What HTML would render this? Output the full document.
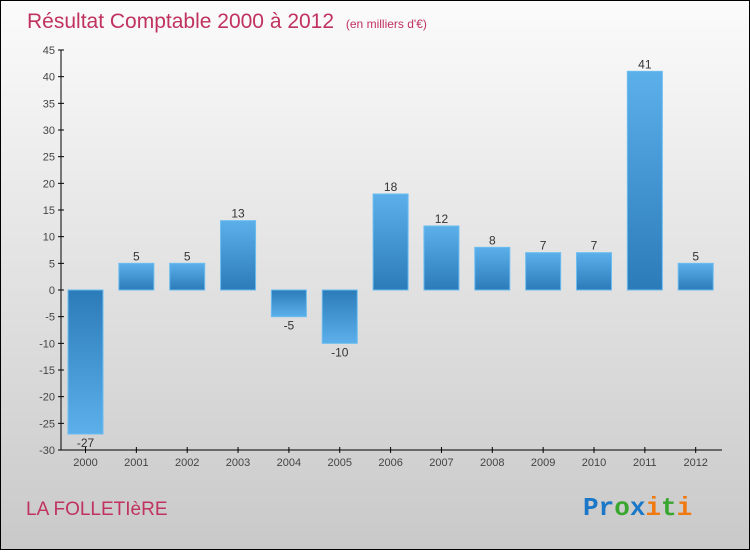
<!DOCTYPE html>
<html><head><meta charset="utf-8"><style>
html,body{margin:0;padding:0}
body{width:750px;height:550px;overflow:hidden;font-family:"Liberation Sans",sans-serif}
#wrap{position:absolute;left:0;top:0;width:748px;height:548px;border:1px solid #000;background:linear-gradient(#fbfbfb,#c9c9c9)}
</style></head><body>
<div id="wrap">
<svg id="chart" width="748" height="548">
<defs>
<linearGradient id="gp" x1="0" y1="0" x2="0" y2="1"><stop offset="0" stop-color="#5cb0ea"/><stop offset="1" stop-color="#2b7bb9"/></linearGradient>
<linearGradient id="gn" x1="0" y1="0" x2="0" y2="1"><stop offset="0" stop-color="#2b7bb9"/><stop offset="1" stop-color="#5cb0ea"/></linearGradient>
</defs>
<text x="26" y="27" font-size="21" fill="#c0325f">Résultat Comptable 2000 à 2012 <tspan font-size="12" dx="6">(en milliers d'€)</tspan></text>
<text x="25" y="514" font-size="19" fill="#c0325f">LA FOLLETIèRE</text>
<text x="582" y="514" font-size="26" font-family="Liberation Mono,monospace" font-weight="bold"><tspan fill="#1b78c8">Pr</tspan><tspan fill="#39a62f">o</tspan><tspan fill="#1b78c8">x</tspan><tspan fill="#f07a10">i</tspan><tspan fill="#39a62f">t</tspan><tspan fill="#f07a10">i</tspan></text>
<g id="g"></g>
</svg>
</div>
<script>
const years=["2000","2001","2002","2003","2004","2005","2006","2007","2008","2009","2010","2011","2012"];
const values=[-27,5,5,13,-5,-10,18,12,8,7,7,41,5];
const yTicks=[-30,-25,-20,-15,-10,-5,0,5,10,15,20,25,30,35,40,45];
const NS="http://www.w3.org/2000/svg";
const g=document.getElementById("g");
const y=v=>289-(v)*(400/75);
const x=i=>84.5+i*50.85;
function mk(t,a){const e=document.createElementNS(NS,t);for(const k in a)e.setAttribute(k,a[k]);g.appendChild(e);return e;}
let ax=mk("line",{x1:60,y1:y(45),x2:60,y2:y(-30),stroke:"#000"});


let bx=mk("line",{x1:60,y1:y(-30),x2:721,y2:y(-30),stroke:"#000"});


yTicks.forEach(v=>{
 const t=mk("line",{x1:57,x2:63,y1:y(v),y2:y(v),stroke:"#000"});
 
 
 const l=mk("text",{x:54,y:y(v)+4,"font-size":11,fill:"#444","text-anchor":"end"});
 l.textContent=v;
 
 
});
years.forEach((yr,i)=>{
 const t=mk("line",{x1:x(i),x2:x(i),y1:y(-30)-3,y2:y(-30)+3,stroke:"#000"});
 
 
 const l=mk("text",{x:x(i),y:y(-30)+16,"font-size":11,fill:"#444","text-anchor":"middle"});
 l.textContent=yr;
 
 
 const v=values[i];
 const top=Math.min(y(v),y(0)),h=Math.abs(y(v)-y(0));
 const b=mk("rect",{x:x(i)-17.5,y:top,width:35,height:h,fill:v>=0?"url(#gp)":"url(#gn)",stroke:"#6bbcf0","stroke-width":1});
 
 
 const vl=mk("text",{x:x(i),y:v>=0?y(v)-3:y(v)+13,"font-size":12,fill:"#333","text-anchor":"middle"});
 vl.textContent=v;
 
 
});
</script>
</body></html>
